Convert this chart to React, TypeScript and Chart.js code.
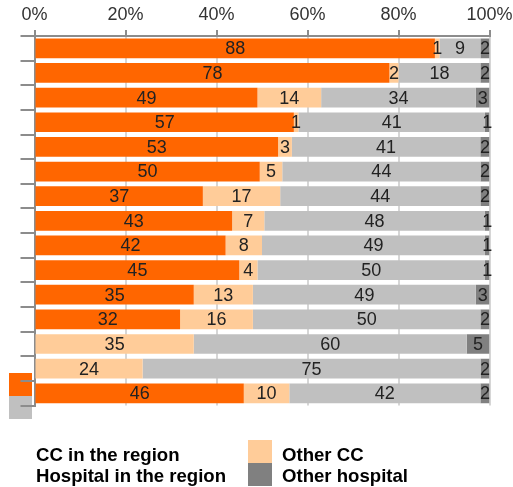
import React, { useEffect, useRef } from "react";
import { Chart, registerables } from "chart.js";

Chart.register(...registerables);

const categories = ["R1", "R2", "R3", "R4", "R5", "R6", "R7", "R8", "R9", "R10", "R11", "R12", "R13", "R14", "R15"];
const ccRegion = [88, 78, 49, 57, 53, 50, 37, 43, 42, 45, 35, 32, 0, 0, 46];
const otherCC = [1, 2, 14, 1, 3, 5, 17, 7, 8, 4, 13, 16, 35, 24, 10];
const hospitalRegion = [9, 18, 34, 41, 41, 44, 44, 48, 49, 50, 49, 50, 60, 75, 42];
const otherHospital = [2, 2, 3, 1, 2, 2, 2, 1, 1, 1, 3, 2, 5, 2, 2];
const xTicks = [0, 20, 40, 60, 80, 100];

const seriesNames = ["CC in the region", "Other CC", "Hospital in the region", "Other hospital"];
const seriesColors = ["#FF6600", "#FFCC99", "#C0C0C0", "#808080"];
const rawSeries = [ccRegion, otherCC, hospitalRegion, otherHospital];

const FONT = '"Liberation Sans", Arial, sans-serif';

const labelPlugin = {
  id: "segLabels",
  afterDatasetsDraw(chart: any) {
    const ctx = chart.ctx;
    ctx.save();
    ctx.font = `18px ${FONT}`;
    ctx.fillStyle = "#222";
    ctx.textAlign = "center";
    ctx.textBaseline = "middle";
    chart.data.datasets.forEach((_ds: any, di: number) => {
      const meta = chart.getDatasetMeta(di);
      meta.data.forEach((el: any, i: number) => {
        const v = rawSeries[di][i];
        if (!v) return;
        const p = el.getProps(["x", "y", "base"], true);
        ctx.fillText(String(v), (p.x + p.base) / 2, p.y + 1);
      });
    });
    ctx.restore();
  },
};

export default function App() {
  const ref = useRef<HTMLCanvasElement | null>(null);
  useEffect(() => {
    if (!ref.current) return;
    const sums = categories.map((_, i) => rawSeries.reduce((a, s) => a + s[i], 0));
    const chart = new Chart(ref.current, {
      type: "bar",
      data: {
        labels: categories,
        datasets: rawSeries.map((s, di) => ({
          label: seriesNames[di],
          data: s.map((v, i) => (v / sums[i]) * 100),
          backgroundColor: seriesColors[di],
          borderWidth: 0,
          barPercentage: 0.8,
          categoryPercentage: 1,
        })),
      },
      options: {
        indexAxis: "y",
        animation: false,
        responsive: false,
        devicePixelRatio: 1,
        layout: { padding: { left: 0, top: 0, right: 23.5, bottom: 81.4 } },
        plugins: { legend: { display: false }, tooltip: { enabled: false } },
        scales: {
          x: {
            position: "top",
            stacked: true,
            min: 0,
            max: 100,
            afterFit: (s: any) => {
              s.height = 36;
              s.paddingLeft = 0;
              s.paddingRight = 0;
            },
            afterBuildTicks: (s: any) => {
              s.ticks = xTicks.map((v) => ({ value: v }));
            },
            ticks: {
              callback: (v: any) => v + "%",
              font: { size: 18, family: FONT },
              color: "#333",
              padding: 4,
              maxRotation: 0,
              autoSkip: false,
            },
            grid: { color: "#d6d6d6", lineWidth: 2, tickColor: "#8c8c8c", tickLength: 6 },
            border: { color: "#8c8c8c", width: 2 },
          },
          y: {
            stacked: true,
            afterFit: (s: any) => {
              s.width = 34.5;
              s.paddingTop = 0;
              s.paddingBottom = 0;
            },
            ticks: { callback: () => "", padding: 0 },
            grid: { drawOnChartArea: false, color: "#8c8c8c", lineWidth: 2, tickLength: 14, offset: true },
            border: { color: "#8c8c8c", width: 2 },
          },
        },
      },
      plugins: [labelPlugin],
    });
    return () => chart.destroy();
  }, []);

  const textStyle: React.CSSProperties = {
    position: "absolute",
    fontFamily: FONT,
    fontWeight: "bold",
    fontSize: 18.6,
    lineHeight: "20px",
    color: "#000",
    whiteSpace: "nowrap",
  };

  return (
    <div style={{ position: "fixed", left: 0, top: 0, width: 513, height: 487, background: "#fff" }}>
      <div style={{ position: "absolute", left: 9, top: 373, width: 23, height: 23, background: seriesColors[0] }} />
      <div style={{ position: "absolute", left: 9, top: 396, width: 23, height: 23, background: seriesColors[2] }} />
      <canvas ref={ref} width={513} height={487} style={{ position: "absolute", left: 0, top: 0, width: 513, height: 487 }} />
      <div style={{ ...textStyle, left: 36, top: 445 }}>{seriesNames[0]}</div>
      <div style={{ ...textStyle, left: 36, top: 466 }}>{seriesNames[2]}</div>
      <div style={{ position: "absolute", left: 248, top: 440, width: 24, height: 23, background: seriesColors[1] }} />
      <div style={{ position: "absolute", left: 248, top: 463, width: 24, height: 23, background: seriesColors[3] }} />
      <div style={{ ...textStyle, left: 282, top: 445 }}>{seriesNames[1]}</div>
      <div style={{ ...textStyle, left: 282, top: 466 }}>{seriesNames[3]}</div>
    </div>
  );
}
